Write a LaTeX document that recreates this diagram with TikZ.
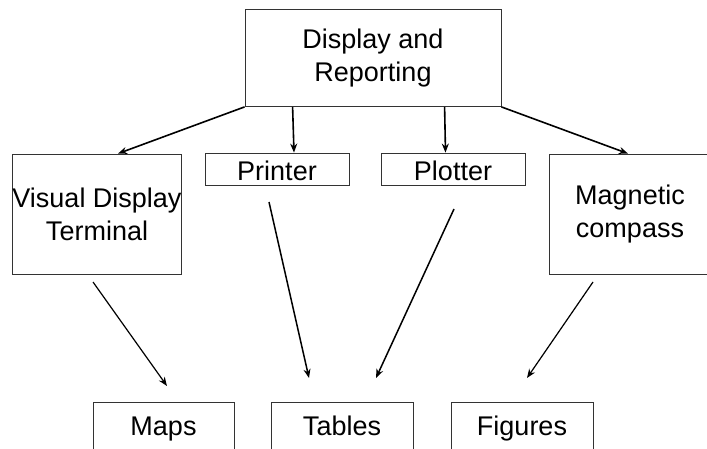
\documentclass[tikz,border=0pt]{standalone}
\usepackage{fontspec}
\setmainfont{Liberation Sans}
\usetikzlibrary{arrows.meta}

\begin{document}
\begin{tikzpicture}[x=1pt,y=1pt,thick,
        every node/.style={inner sep=0pt,font=\fontsize{27}{33}\selectfont},
        unit/.style={draw=black!80,line width=0.8pt},
        twoline/.style={unit,align=center},
        oneline/.style={unit,text height=24.4pt,text depth=2pt},
        output/.style={unit,text height=21.4pt,text depth=10pt,minimum height=56},
        >={Stealth[length=9pt,width=7pt]}]
        \useasboundingbox(0,0)rectangle(707,448);
        \node[twoline,minimum width=256,minimum height=97](disp)at(373,390){Display and\\Reporting};
        \node[twoline,minimum width=168,minimum height=120](vdt)at(97,234){Visual Display\\Terminal};
        \node[oneline,minimum width=144,minimum height=32](prn)at(277,279){Printer};
        \node[oneline,minimum width=144,minimum height=32](plt)at(453,279){Plotter};
        \node[twoline,minimum width=162,minimum height=120](mag)at(630,234){Magnetic\\compass};
        \node[output,minimum width=141](maps)at(163.5,18){Maps};
        \node[output,minimum width=142](tabs)at(342,18){Tables};
        \node[output,minimum width=142](figs)at(522,18){Figures};
        % gaps below the middle row
        \coordinate(vdtout)at(93,166);  \coordinate(mapsin)at(167,62);
        \coordinate(prnout)at(269,246); \coordinate(tabsin)at(309,70);
        \coordinate(pltout)at(454,239); \coordinate(tabsin2)at(376,70);
        \coordinate(magout)at(593,166); \coordinate(figsin)at(527,70);
        \begin{scope}[line width=1.6pt]
          \draw[->](disp.south west)--([xshift=21]vdt.north);
          \draw[->]([xshift=48]disp.south west)--([xshift=17]prn.north);
          \draw[->]([xshift=200]disp.south west)--([xshift=-7.5]plt.north);
          \draw[->](disp.south east)--([xshift=-2]mag.north);
        \end{scope}
        \begin{scope}[line width=1.2pt]
          \draw[->](vdtout)--(mapsin);
          \draw[->,line width=1.5pt](prnout)--(tabsin);
          \draw[->,line width=1.5pt](pltout)--(tabsin2);
          \draw[->](magout)--(figsin);
        \end{scope}
     \end{tikzpicture}
\end{document}
